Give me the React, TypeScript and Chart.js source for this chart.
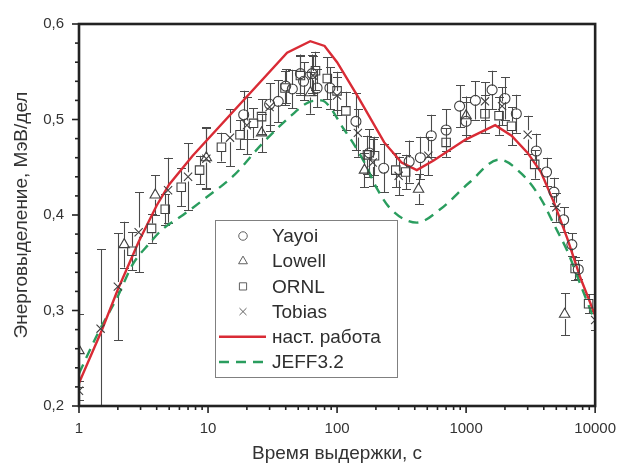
import React, { useEffect, useRef } from 'react';
import { Chart, registerables } from 'chart.js';
import { drawPoint } from 'chart.js/helpers';

Chart.register(...registerables);

const FONT = '"Liberation Sans", Arial, Helvetica, sans-serif';

// [time (s), value (MeV/fission), error]
const yayoiPts: number[][] = [
  [18.9, 0.505, 0.025], [30, 0.516, 0.022], [35, 0.519, 0.022], [40, 0.535, 0.018],
  [45, 0.532, 0.02], [52, 0.548, 0.02], [55, 0.54, 0.02], [64, 0.548, 0.02],
  [70, 0.533, 0.02], [88, 0.533, 0.022], [140, 0.498, 0.03], [178, 0.465, 0.025],
  [230, 0.449, 0.025], [362, 0.456, 0.022], [442, 0.46, 0.022], [537, 0.483, 0.022],
  [700, 0.489, 0.022], [890, 0.514, 0.022], [1000, 0.498, 0.02], [1180, 0.52, 0.02],
  [1590, 0.531, 0.02], [2000, 0.522, 0.022], [2450, 0.506, 0.02], [3500, 0.467, 0.018],
  [4200, 0.445, 0.015], [4800, 0.424, 0.015], [5700, 0.395, 0.013], [6600, 0.369, 0.012],
  [7400, 0.343, 0.01],
];

const lowellPts: number[][] = [
  [1, 0.258, 0.038], [2.24, 0.369, 0.024], [3.9, 0.421, 0.021], [9.7, 0.46, 0.032],
  [26, 0.486, 0.02], [62, 0.528, 0.022], [163, 0.447, 0.018], [428, 0.427, 0.016],
  [1000, 0.504, 0.02], [5800, 0.296, 0.022],
];

const ornlPts: number[][] = [
  [2.57, 0.362, 0.02], [3.65, 0.386, 0.015], [4.66, 0.406, 0.016], [6.2, 0.429, 0.02],
  [8.6, 0.447, 0.015], [12.7, 0.471, 0.015], [17.7, 0.484, 0.015], [22.5, 0.496, 0.016],
  [26, 0.503, 0.018], [39.5, 0.533, 0.018], [52, 0.546, 0.02], [68, 0.551, 0.02],
  [84, 0.543, 0.022], [100, 0.53, 0.02], [117, 0.509, 0.02], [172, 0.463, 0.02],
  [195, 0.462, 0.02], [285, 0.447, 0.018], [340, 0.445, 0.018], [700, 0.476, 0.015],
  [1400, 0.506, 0.02], [1800, 0.504, 0.02], [2250, 0.493, 0.02], [3400, 0.453, 0.015],
  [7000, 0.344, 0.012], [8900, 0.307, 0.01],
];

const tobiasPts: number[][] = [
  [1, 0.216, 0.01], [1.47, 0.281, 0.083], [2, 0.325, 0.056], [2.9, 0.382, 0.042],
  [4.9, 0.426, 0.034], [7.0, 0.44, 0.035], [9.7, 0.459, 0.032], [14.8, 0.481, 0.03],
  [20, 0.494, 0.03], [30, 0.513, 0.025], [65, 0.546, 0.02], [100, 0.525, 0.02],
  [145, 0.486, 0.025], [189, 0.455, 0.025], [300, 0.441, 0.02], [510, 0.462, 0.02],
  [1400, 0.519, 0.02], [1900, 0.514, 0.02], [3000, 0.484, 0.02], [5000, 0.408, 0.015],
  [10000, 0.29, 0.01],
];

// calculation curves: [time, value]
const thisWorkCurve: number[][] = [
  [1, 0.224], [1.5, 0.279], [2, 0.322], [2.9, 0.372], [4, 0.41], [5, 0.432], [7.6, 0.462],
  [41, 0.57], [62, 0.582], [80, 0.577], [100, 0.56], [145, 0.524], [232, 0.476], [316, 0.455],
  [415, 0.447], [560, 0.457], [990, 0.479], [1680, 0.494], [2250, 0.483], [3000, 0.465],
  [3800, 0.445], [4800, 0.413], [6100, 0.375], [7700, 0.334], [10000, 0.295],
];

const jeffCurve: number[][] = [
  [1, 0.234], [1.4, 0.276], [2, 0.315], [2.6, 0.348], [3.5, 0.37], [4.35, 0.384], [6.4, 0.4],
  [9.2, 0.416], [16, 0.442], [26, 0.474], [44, 0.504], [60, 0.518], [75, 0.52], [114, 0.489],
  [163, 0.455], [205, 0.427], [262, 0.406], [415, 0.392], [630, 0.406], [1060, 0.434],
  [1800, 0.458], [2700, 0.443], [3800, 0.417], [4800, 0.39], [6100, 0.362], [7700, 0.327],
  [10000, 0.288],
];

const yTickValues = [0.2, 0.3, 0.4, 0.5, 0.6];
const xTickValues = [1, 10, 100, 1000, 10000];

const legendLabels = ['Yayoi', 'Lowell', 'ORNL', 'Tobias', 'наст. работа', 'JEFF3.2'];

const MARK = '#404040';
const RED = '#d92b35';
const GREEN = '#2a9d5e';

const toXY = (arr: number[][]) => arr.map((p) => ({ x: p[0], y: p[1] }));

const errorBarsPlugin = {
  id: 'errorBars',
  beforeDatasetsDraw(chart: any) {
    const { ctx, chartArea, scales } = chart;
    const x = scales.x, y = scales.y;
    ctx.save();
    ctx.beginPath();
    ctx.rect(chartArea.left, chartArea.top, chartArea.right - chartArea.left, chartArea.bottom - chartArea.top);
    ctx.clip();
    ctx.strokeStyle = '#4a4a4a';
    ctx.lineWidth = 1.1;
    chart.data.datasets.forEach((ds: any) => {
      if (!ds.errors) return;
      const r = ds.pointRadius * 0.8;
      ds.data.forEach((p: any, j: number) => {
        const e = ds.errors[j];
        const px = Math.round(x.getPixelForValue(p.x)) + 0.5;
        const py = y.getPixelForValue(p.y);
        const pt = y.getPixelForValue(p.y + e);
        const pb = y.getPixelForValue(p.y - e);
        ctx.beginPath();
        ctx.moveTo(px, pt);
        ctx.lineTo(px, py - r);
        ctx.moveTo(px, py + r);
        ctx.lineTo(px, pb);
        ctx.moveTo(px - 4.5, Math.round(pt) + 0.5);
        ctx.lineTo(px + 4.5, Math.round(pt) + 0.5);
        ctx.moveTo(px - 4.5, Math.round(pb) + 0.5);
        ctx.lineTo(px + 4.5, Math.round(pb) + 0.5);
        ctx.stroke();
      });
    });
    ctx.restore();
  },
};

const frameLegendPlugin = {
  id: 'frameLegend',
  afterDraw(chart: any) {
    const { ctx, chartArea, scales } = chart;
    const { left, right, top, bottom } = chartArea;
    const x = scales.x, y = scales.y;
    ctx.save();
    ctx.strokeStyle = '#222';
    ctx.lineWidth = 1.6;
    // y ticks (major every 0.1, minor every 0.02)
    for (let k = 0; k <= 20; k++) {
      const v = 0.2 + k * 0.02;
      const py = y.getPixelForValue(v);
      const len = k % 5 === 0 ? 7 : 4;
      ctx.beginPath();
      ctx.moveTo(left - len, py);
      ctx.lineTo(left, py);
      ctx.stroke();
    }
    // x ticks (decades major, 2..9 minor)
    for (let d = 1; d <= 10000; d *= 10) {
      for (let m = 1; m <= 9; m++) {
        const v = d * m;
        if (v > 10000) break;
        const px = x.getPixelForValue(v);
        const len = m === 1 ? 7 : 4;
        ctx.beginPath();
        ctx.moveTo(px, bottom);
        ctx.lineTo(px, bottom + len);
        ctx.stroke();
      }
    }
    // frame
    ctx.lineWidth = 2.6;
    ctx.strokeStyle = '#222';
    ctx.strokeRect(left, top, right - left, bottom - top);

    // legend
    const bx = 215.5, by = 220.5, bw = 182, bh = 157;
    ctx.fillStyle = '#ffffff';
    ctx.fillRect(bx, by, bw, bh);
    ctx.lineWidth = 1;
    ctx.strokeStyle = '#808080';
    ctx.strokeRect(bx, by, bw, bh);
    const datasets = chart.data.datasets;
    ctx.font = `19px ${FONT}`;
    ctx.textBaseline = 'middle';
    ctx.textAlign = 'left';
    for (let i = 0; i < legendLabels.length; i++) {
      const ds = datasets[i];
      const cy = 236 + i * 25.2;
      if (ds.showLine) {
        ctx.save();
        ctx.strokeStyle = ds.borderColor;
        ctx.lineWidth = ds.borderWidth;
        ctx.setLineDash(ds.borderDash || []);
        ctx.beginPath();
        ctx.moveTo(219, cy);
        ctx.lineTo(266, cy);
        ctx.stroke();
        ctx.restore();
      } else {
        ctx.save();
        ctx.strokeStyle = '#606060';
        ctx.fillStyle = 'rgba(0,0,0,0)';
        ctx.lineWidth = 1;
        drawPoint(ctx, { pointStyle: ds.pointStyle, radius: ds.pointRadius * 0.85, rotation: 0, borderWidth: 1 }, 243, cy);
        ctx.restore();
      }
      ctx.fillStyle = '#2e2e2e';
      ctx.fillText(legendLabels[i], 272, cy + 1);
    }
    ctx.restore();
  },
};

function pointSet(label: string, pts: number[][], style: string, radius: number) {
  return {
    label,
    data: toXY(pts),
    errors: pts.map((p) => p[2]),
    showLine: false,
    pointStyle: style,
    pointRadius: radius,
    pointBorderWidth: 1.1,
    borderColor: MARK,
    backgroundColor: 'rgba(0,0,0,0)',
    pointBackgroundColor: 'rgba(0,0,0,0)',
    pointBorderColor: MARK,
  };
}

export default function App() {
  const ref = useRef<HTMLCanvasElement | null>(null);

  useEffect(() => {
    if (!ref.current) return;
    const chart = new Chart(ref.current, {
      type: 'scatter',
      data: {
        datasets: [
          pointSet('Yayoi', yayoiPts, 'circle', 5),
          pointSet('Lowell', lowellPts, 'triangle', 6),
          pointSet('ORNL', ornlPts, 'rect', 6),
          pointSet('Tobias', tobiasPts, 'crossRot', 5.8),
          {
            label: 'наст. работа',
            data: toXY(thisWorkCurve),
            showLine: true,
            borderColor: RED,
            backgroundColor: RED,
            borderWidth: 2.4,
            pointRadius: 0,
            tension: 0,
          },
          {
            label: 'JEFF3.2',
            data: toXY(jeffCurve),
            showLine: true,
            borderColor: GREEN,
            backgroundColor: GREEN,
            borderWidth: 2.4,
            borderDash: [10, 7],
            pointRadius: 0,
            tension: 0.3,
            cubicInterpolationMode: 'monotone',
          },
        ] as any,
      },
      options: {
        animation: false,
        responsive: false,
        devicePixelRatio: 1,
        layout: { padding: { left: 0, right: 25, top: 20, bottom: 0 } },
        plugins: {
          legend: { display: false },
          tooltip: { enabled: false },
        },
        scales: {
          x: {
            type: 'logarithmic',
            min: 1,
            max: 10000,
            afterFit: (scale: any) => { scale.height = 62; },
            afterBuildTicks: (scale: any) => { scale.ticks = xTickValues.map((v) => ({ value: v })); },
            grid: { display: false, drawTicks: false },
            border: { display: false },
            ticks: {
              autoSkip: false,
              maxRotation: 0,
              padding: 14,
              color: '#333',
              font: { family: FONT, size: 15 },
              callback: (v: any) => String(v),
            },
            title: {
              display: true,
              text: 'Время выдержки, с',
              color: '#333',
              font: { family: FONT, size: 19 },
              padding: { top: 0, bottom: 3 },
            },
          },
          y: {
            type: 'linear',
            min: 0.2,
            max: 0.6,
            afterFit: (scale: any) => { scale.width = 79; },
            afterBuildTicks: (scale: any) => { scale.ticks = yTickValues.map((v) => ({ value: v })); },
            grid: { display: false, drawTicks: false },
            border: { display: false },
            ticks: {
              padding: 15,
              color: '#333',
              font: { family: FONT, size: 15 },
              callback: (v: any) => Number(v).toFixed(1).replace('.', ','),
            },
            title: {
              display: true,
              text: 'Энерговыделение, МэВ/дел',
              color: '#333',
              font: { family: FONT, size: 19 },
              padding: { top: 10, bottom: 0 },
            },
          },
        },
      } as any,
      plugins: [errorBarsPlugin, frameLegendPlugin],
    });
    return () => chart.destroy();
  }, []);

  return (
    <canvas
      ref={ref}
      width={630}
      height={468}
      style={{ position: 'absolute', left: 0, top: 0, width: 630, height: 468 }}
    />
  );
}
